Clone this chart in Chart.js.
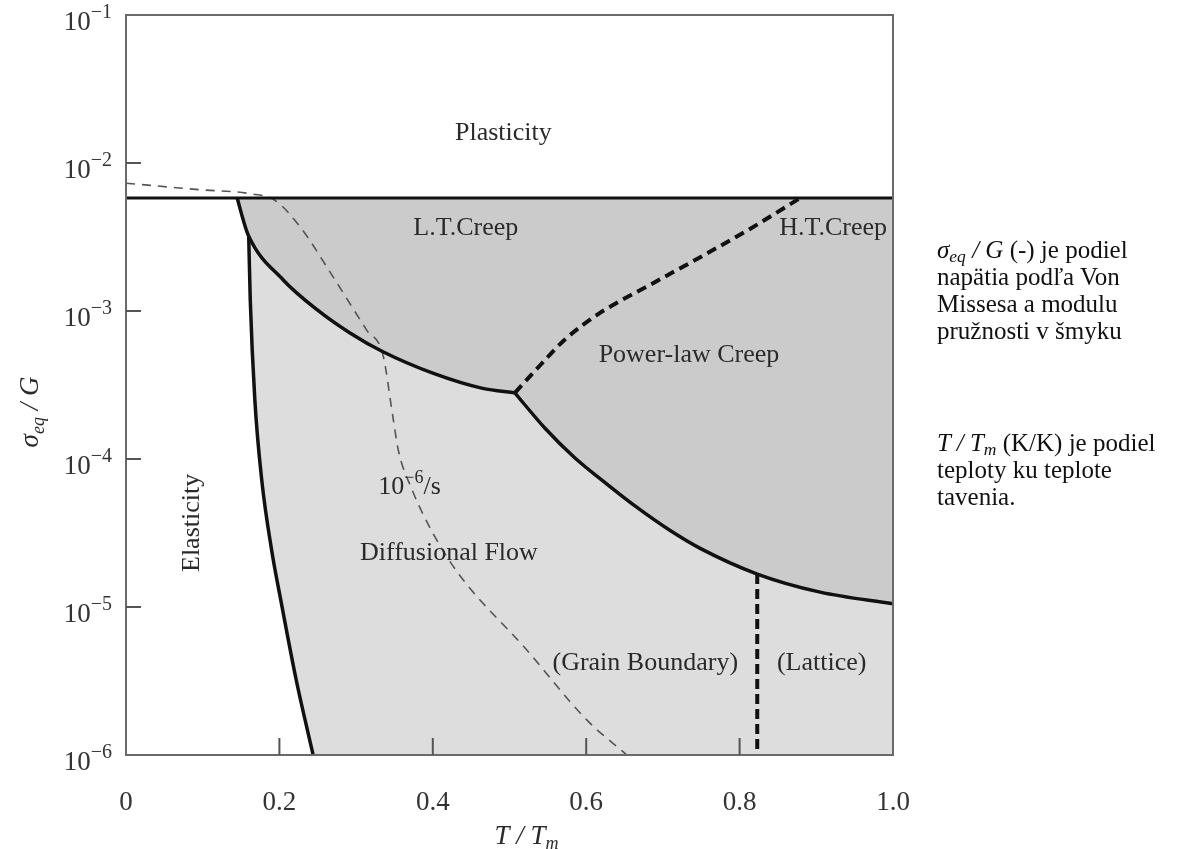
<!DOCTYPE html>
<html>
<head>
<meta charset="utf-8">
<script src="https://cdn.jsdelivr.net/npm/chart.js@4.4.1/dist/chart.umd.min.js"></script>
<style>
  html, body { margin: 0; padding: 0; background: #fff; }
  #wrap { position: relative; width: 1178px; height: 849px; }
  #note {
    position: absolute; left: 937px; top: 236px; width: 241px;
    font: 25px "Liberation Serif", "Times New Roman", serif; color: #111;
    line-height: 27px;
  }
  #note p { margin: 0 0 85px 0; white-space: nowrap; }
  #note sub { font-size: 70%; line-height: 0; vertical-align: -0.25em; }
</style>
</head>
<body>
<div id="wrap">
  <canvas id="map" width="1178" height="849"></canvas>
  <div id="note">
    <p><i>σ<sub>eq</sub> / G</i> (-) je podiel<br>napätia podľa Von<br>Missesa a modulu<br>pružnosti v šmyku</p>
    <p><i>T / T<sub>m</sub></i> (K/K) je podiel<br>teploty ku teplote<br>tavenia.</p>
  </div>
</div>
<script>
// axis ranges and ticks
const tTicks = [0, 0.2, 0.4, 0.6, 0.8, 1.0];
const stressExponents = [-1, -2, -3, -4, -5, -6];

// plasticity limit (horizontal)
const plasticT = [0, 1.0];
const plasticS = [5.8e-3, 5.8e-3];

// low-temperature creep / diffusional flow boundary, ends at the triple point
const ltCreepT = [0.145, 0.153, 0.160, 0.205, 0.249, 0.292, 0.335, 0.400, 0.465, 0.507];
const ltCreepS = [5.8e-3, 4.1e-3, 3.2e-3, 1.62e-3, 1.02e-3, 7.1e-4, 5.3e-4, 3.8e-4, 3.0e-4, 2.8e-4];
const ltJunction = 2; // where the elastic limit branches off

// elastic limit
const elasticT = [0.160, 0.162, 0.168, 0.177, 0.190, 0.202, 0.222, 0.244];
const elasticS = [3.2e-3, 1.19e-3, 2.5e-4, 7.2e-5, 2.4e-5, 1.1e-5, 3.2e-6, 1e-6];

// power-law creep / diffusional flow boundary
const powerLawT = [0.507, 0.546, 0.585, 0.625, 0.664, 0.709, 0.748, 0.823, 0.905, 1.0];
const powerLawS = [2.8e-4, 1.62e-4, 1.02e-4, 6.9e-5, 4.8e-5, 3.3e-5, 2.5e-5, 1.67e-5, 1.26e-5, 1.05e-5];

// H.T. / L.T. creep boundary
const htCreepT = [0.507, 0.540, 0.572, 0.618, 0.683, 0.748, 0.814, 0.879];
const htCreepS = [2.8e-4, 4.3e-4, 6.4e-4, 9.7e-4, 1.5e-3, 2.3e-3, 3.6e-3, 5.8e-3];

// grain boundary / lattice diffusion boundary
const latticeT = [0.823, 0.823];
const latticeS = [1.67e-5, 1e-6];

// strain-rate contour 10^-6 /s
const rateT = [0, 0.096, 0.162, 0.194, 0.227, 0.270, 0.314, 0.335, 0.348, 0.355, 0.373, 0.400, 0.435, 0.520, 0.601, 0.653];
const rateS = [7.3e-3, 6.6e-3, 6.2e-3, 5.6e-3, 3.7e-3, 1.7e-3, 7.4e-4, 5.05e-4, 1.92e-4, 1.15e-4, 6.2e-5, 3.16e-5, 1.64e-5, 5.3e-6, 1.72e-6, 1e-6];

// field names, anchored at (T/Tm, sigma/G)
const fieldLabels = [
  { text: 'Plasticity', t: 0.492, s: 1.6e-2 },
  { text: 'L.T.Creep', t: 0.443, s: 3.64e-3 },
  { text: 'H.T.Creep', t: 0.922, s: 3.6e-3 },
  { text: 'Power-law Creep', t: 0.734, s: 5.05e-4 },
  { text: 'Diffusional Flow', t: 0.421, s: 2.32e-5 },
  { text: '(Grain Boundary)', t: 0.677, s: 4.19e-6 },
  { text: '(Lattice)', t: 0.907, s: 4.19e-6 },
  { text: 'Elasticity', t: 0.086, s: 3.7e-5, rotate: true }
];
const rateLabel = { t: 0.329, s: 5.8e-5 };

const SERIF = '"Liberation Serif", "Times New Roman", serif';
const pts = (ts, ss) => ts.map((t, i) => ({ x: t, y: ss[i] }));

const DARK = '#cbcbcb';
const LIGHT = '#dddddd';
const INK = '#111111';

// lower edge of the creep fields: L.T. creep line followed by the power-law line
const creepFloor = pts(ltCreepT, ltCreepS).concat(pts(powerLawT, powerLawS).slice(1));
// upper edge of the diffusional field, from the elastic junction on
const diffusionTop = creepFloor.slice(ltJunction);
// edge of the elastic field below the creep line
const elasticEdge = pts(ltCreepT, ltCreepS).slice(0, ltJunction).concat(pts(elasticT, elasticS));

function areaSet(data, color, fill, order) {
  return {
    data, order, fill, backgroundColor: color,
    borderColor: 'transparent', borderWidth: 1, pointRadius: 0,
    cubicInterpolationMode: 'monotone'
  };
}
function lineSet(data, opts) {
  return Object.assign({
    data, order: 0, fill: false, borderColor: INK, borderWidth: 3.5,
    pointRadius: 0, cubicInterpolationMode: 'monotone'
  }, opts);
}

// text made of runs: {t, size, italic, dy}
function drawRuns(ctx, runs, x, y, align) {
  const font = r => `${r.italic ? 'italic ' : ''}${r.size}px ${SERIF}`;
  let w = 0;
  runs.forEach(r => { ctx.font = font(r); r.w = ctx.measureText(r.t).width; w += r.w; });
  let cx = align === 'right' ? x - w : align === 'center' ? x - w / 2 : x;
  ctx.textAlign = 'left';
  ctx.textBaseline = 'alphabetic';
  runs.forEach(r => { ctx.font = font(r); ctx.fillText(r.t, cx, y + (r.dy || 0)); cx += r.w; });
}

const decor = {
  id: 'mapDecor',
  afterDatasetsDraw(chart) {
    const { ctx, chartArea: a, scales: { x, y } } = chart;
    ctx.save();
    // frame
    ctx.strokeStyle = '#6a6a6a';
    ctx.lineWidth = 2;
    ctx.strokeRect(a.left, a.top, a.right - a.left, a.bottom - a.top);
    // inward tick marks
    ctx.strokeStyle = '#555';
    ctx.beginPath();
    tTicks.slice(1, -1).forEach(v => {
      const px = x.getPixelForValue(v);
      ctx.moveTo(px, a.bottom); ctx.lineTo(px, a.bottom - 17);
    });
    stressExponents.slice(1, -1).forEach(e => {
      const py = y.getPixelForValue(Math.pow(10, e));
      ctx.moveTo(a.left, py); ctx.lineTo(a.left + 15, py);
    });
    ctx.stroke();

    // field names
    ctx.fillStyle = '#2a2a2a';
    ctx.textAlign = 'center';
    ctx.textBaseline = 'middle';
    ctx.font = `26px ${SERIF}`;
    fieldLabels.forEach(l => {
      const px = x.getPixelForValue(l.t), py = y.getPixelForValue(l.s);
      if (l.rotate) {
        ctx.save();
        ctx.translate(px, py);
        ctx.rotate(-Math.PI / 2);
        ctx.fillText(l.text, 0, 0);
        ctx.restore();
      } else {
        ctx.fillText(l.text, px, py);
      }
    });
    drawRuns(ctx, [
      { t: '10', size: 26 },
      { t: '\u22126', size: 18, dy: -11 },
      { t: '/s', size: 26 }
    ], x.getPixelForValue(rateLabel.t), y.getPixelForValue(rateLabel.s), 'left');

    // decade labels on the stress axis
    ctx.fillStyle = '#333';
    stressExponents.forEach(e => {
      const py = y.getPixelForValue(Math.pow(10, e));
      ctx.font = `20px ${SERIF}`;
      const supW = ctx.measureText('\u2212' + (-e)).width;
      drawRuns(ctx, [{ t: '10', size: 27 }], a.left - 14 - supW, py + 15, 'right');
      drawRuns(ctx, [{ t: '\u2212' + (-e), size: 20 }], a.left - 14, py + 3, 'right');
    });

    // axis titles
    ctx.fillStyle = '#2a2a2a';
    ctx.save();
    ctx.translate(38, 412);
    ctx.rotate(-Math.PI / 2);
    drawRuns(ctx, [
      { t: '\u03c3', size: 27, italic: true },
      { t: 'eq', size: 18, italic: true, dy: 6 },
      { t: ' / G', size: 27, italic: true }
    ], 0, 0, 'center');
    ctx.restore();
    drawRuns(ctx, [
      { t: 'T / T', size: 27, italic: true },
      { t: 'm', size: 18, italic: true, dy: 5 }
    ], (a.left + a.right) / 2 + 17, 844, 'center');
    ctx.restore();
  }
};

new Chart(document.getElementById('map'), {
  type: 'line',
  data: {
    datasets: [
      // 0: lower edge of the creep fields, used as a fill target
      areaSet(creepFloor, 'transparent', false, 40),
      // creep fields between the plasticity limit and that edge
      areaSet(pts([ltCreepT[0], plasticT[1]], plasticS), DARK, 0, 30),
      // diffusional flow field
      areaSet(diffusionTop, LIGHT, 'start', 20),
      // elastic field below the creep line
      areaSet(elasticEdge, '#ffffff', 'start', 10),
      // boundaries
      lineSet(pts(rateT, rateS), { borderColor: '#555', borderWidth: 1.6, borderDash: [9, 7], order: 5 }),
      lineSet(pts(plasticT, plasticS), { borderWidth: 3, order: 4 }),
      lineSet(pts(ltCreepT, ltCreepS), { order: 3 }),
      lineSet(pts(elasticT, elasticS), { order: 3 }),
      lineSet(pts(powerLawT, powerLawS), { order: 3 }),
      lineSet(pts(htCreepT, htCreepS), { borderWidth: 4, borderDash: [10, 6], order: 2 }),
      lineSet(pts(latticeT, latticeS), { borderWidth: 4, borderDash: [10, 5], cubicInterpolationMode: 'default', tension: 0, order: 2 })
    ]
  },
  options: {
    responsive: false,
    animation: false,
    events: [],
    layout: { padding: { top: 15, right: 285, left: 0, bottom: 0 } },
    plugins: { legend: { display: false }, tooltip: { enabled: false } },
    scales: {
      x: {
        type: 'linear', min: 0, max: 1,
        border: { display: false },
        grid: { display: false, drawTicks: false },
        afterBuildTicks: s => { s.ticks = tTicks.map(v => ({ value: v })); },
        afterFit: s => { s.height = 94; },
        ticks: {
          color: '#333', padding: 32, maxRotation: 0, autoSkip: false,
          font: { family: SERIF, size: 27 },
          callback: v => (v === 0 ? '0' : v.toFixed(1))
        }
      },
      y: {
        type: 'logarithmic', min: 1e-6, max: 1e-1,
        border: { display: false },
        grid: { display: false },
        afterBuildTicks: s => { s.ticks = stressExponents.map(e => ({ value: Math.pow(10, e) })); },
        afterFit: s => { s.width = 126; },
        ticks: { display: false }
      }
    }
  },
  plugins: [decor]
});
</script>
</body>
</html>
